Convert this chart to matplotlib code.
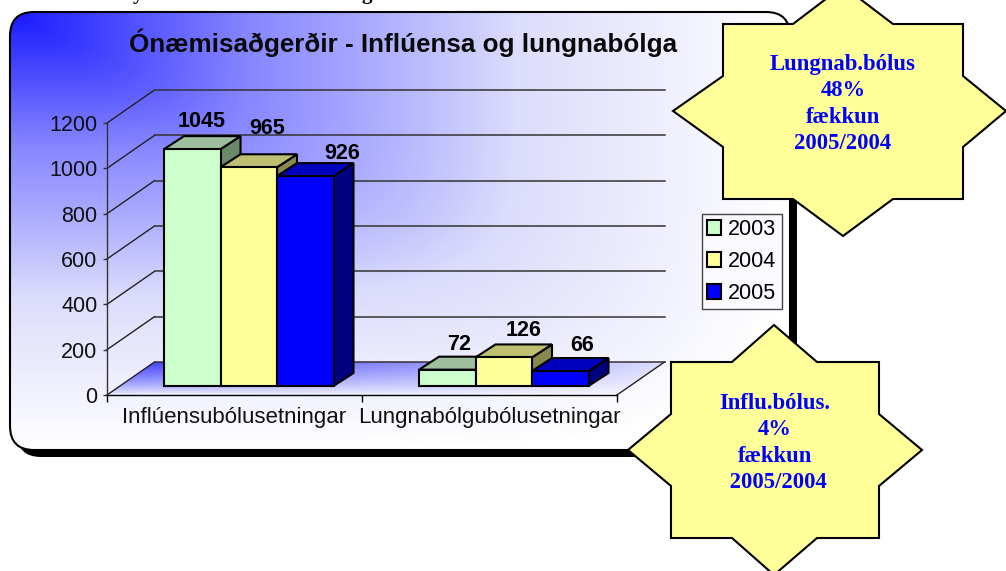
#!/usr/bin/env python3
# -*- coding: utf-8 -*-
import numpy as np
import matplotlib
matplotlib.use('Agg')
import matplotlib.pyplot as plt
from matplotlib.patches import Polygon, FancyBboxPatch
from matplotlib.colors import LinearSegmentedColormap

W, H = 1006, 571

categories = ['Inflúensubólusetningar', 'Lungnabólgubólusetningar']
years = ['2003', '2004', '2005']
values_2003 = [1045, 72]
values_2004 = [965, 126]
values_2005 = [926, 66]
y_ticks = [0, 200, 400, 600, 800, 1000, 1200]

title = 'Ónæmisaðgerðir - Inflúensa og lungnabólga'
note_lung = 'Lungnab.bólus\n48%\nfækkun\n2005/2004'
note_influ = 'Influ.bólus.\n4%\nfækkun\n 2005/2004'

front_cols = ['#CCFFCC', '#FFFF99', '#0000FF']
top_cols = ['#9DBF9D', '#BFBF73', '#0000BF']
side_cols = ['#6B886B', '#88884F', '#000080']

SANS = 'Liberation Sans'
SERIF = 'Liberation Serif'

fig = plt.figure(figsize=(W/100, H/100), dpi=100)
fig.patch.set_facecolor('white')

# page layer in pixel coordinates
pg = fig.add_axes([0, 0, 1, 1], zorder=0)
pg.set_xlim(0, W)
pg.set_ylim(H, 0)
pg.axis('off')

# cut off line of text above the panel
pg.text(138, -1, 'y', family=SERIF, weight='bold', fontsize=15, ha='center', va='baseline', color='black')
pg.text(367, -1, 'g', family=SERIF, weight='bold', fontsize=15, ha='center', va='baseline', color='black')

# panel with shadow
px0, py0, px1, py1 = 10, 12, 790, 450
shadow = FancyBboxPatch((px0+7, py0+7), px1-px0, py1-py0, boxstyle='round,pad=0,rounding_size=24',
                        fc='black', ec='black', lw=0, mutation_aspect=1)
pg.add_patch(shadow)
panel = FancyBboxPatch((px0, py0), px1-px0, py1-py0, boxstyle='round,pad=0,rounding_size=24',
                       fc='none', ec='black', lw=1.5)
xx, yy = np.meshgrid(np.arange(px0, px1), np.arange(py0, py1))
t = (((xx-px0)/(px1-px0))**6+((yy-py0)/(py1-py0))**6)**(1/6)
cmap = LinearSegmentedColormap.from_list('panel', [(0, '#1A1AFF'), (0.31, '#8888FF'), (0.45, '#A8A8FF'),
                                                   (0.65, '#DCDCFC'), (1, '#FFFFFF')])
im = pg.imshow(t, extent=(px0, px1, py1, py0), cmap=cmap, vmin=0, vmax=1, aspect='auto', zorder=1)
pg.add_patch(panel)
panel.set_zorder(2)
im.set_clip_path(panel)
pg.set_xlim(0, W)
pg.set_ylim(H, 0)

# chart layer, values go through this axes' scales
ax_l, ax_r, ax_b, ax_t = 107, 617, 395, 123
ax = fig.add_axes([ax_l/W, 1-ax_b/H, (ax_r-ax_l)/W, (ax_b-ax_t)/H], zorder=1)
ax.patch.set_alpha(0)
ax.set_xlim(0, 2)
ax.set_ylim(0, 1200)


def dx(px):
    return px*2/(ax_r-ax_l)


def dy(px):
    return px*1200/(ax_b-ax_t)


# floor
wall_x, wall_y = dx(47.5), dy(33)
fx, fy = np.meshgrid(np.linspace(0, 1, 300), np.linspace(0, 1, 60))
floor_rgba = np.zeros((60, 300, 4))
floor_rgba[..., 0] = 0.19
floor_rgba[..., 1] = 0.19
floor_rgba[..., 2] = 1.0
floor_rgba[..., 3] = (1-fy)**0.8*(1-0.85*fx)*0.95
floor_im = ax.imshow(floor_rgba, extent=(0, 2+wall_x, wall_y, 0), origin='lower', aspect='auto', zorder=1)
floor_poly = Polygon([(0, 0), (wall_x, wall_y), (2+wall_x, wall_y), (2, 0)], fc='none', ec='none',
                     transform=ax.transData)
ax.add_patch(floor_poly)
floor_im.set_clip_box(fig.bbox)
floor_im.set_clip_path(floor_poly)
ax.set_xlim(0, 2)
ax.set_ylim(0, 1200)

# walls
for v in y_ticks:
    ax.plot([0, wall_x], [v, v+wall_y], color='#222222', lw=1, clip_on=False, zorder=2)
    ax.plot([wall_x, 2+wall_x], [v+wall_y, v+wall_y], color='#333333', lw=1.1, clip_on=False, zorder=2)
ax.plot([2, 2+wall_x], [0, wall_y], color='#222222', lw=1, clip_on=False, zorder=2)

# bars
bar_w = dx(56.5)
bar_off = dx(57)
lift = dy(9)
depth_x, depth_y = dx(20), dy(13)
series = [values_2003, values_2004, values_2005]
handles = []
z = 3
for g in range(len(categories)):
    for i, vals in enumerate(series):
        x0 = g+bar_off+i*bar_w
        v = vals[g]
        b = ax.bar(x0, v, bar_w, bottom=lift, align='edge', color=front_cols[i], edgecolor='black', lw=1.5,
                   zorder=z+2, clip_on=False)
        top = lift+v
        ax.add_patch(Polygon([(x0, top), (x0+depth_x, top+depth_y), (x0+bar_w+depth_x, top+depth_y), (x0+bar_w, top)],
                             fc=top_cols[i], ec='black', lw=1.5, zorder=z+1, clip_on=False))
        ax.add_patch(Polygon([(x0+bar_w, lift), (x0+bar_w+depth_x, lift+depth_y), (x0+bar_w+depth_x, top+depth_y), (x0+bar_w, top)],
                             fc=side_cols[i], ec='black', lw=1.5, zorder=z, clip_on=False))
        z += 3
        if g == 0:
            handles.append(b)

# data labels, nudged by hand like in the original
label_dx = [[9, 18, 37], [12, 20, 22]]
label_dy = [[9, 20, 4], [7, 8, 7]]
for g in range(len(categories)):
    for i, vals in enumerate(series):
        xc = g+bar_off+(i+0.5)*bar_w+dx(label_dx[g][i])
        yb = lift+vals[g]+depth_y+dy(label_dy[g][i])
        ax.text(xc, yb, str(vals[g]), family=SANS, weight='bold', fontsize=15.5, ha='center', va='baseline',
                color='black', zorder=100, clip_on=False)

for s in ['top', 'right']:
    ax.spines[s].set_visible(False)
for s in ['left', 'bottom']:
    ax.spines[s].set_linewidth(1)
    ax.spines[s].set_zorder(2)
ax.spines['left'].set_color('#333333')
ax.spines['bottom'].set_color('black')
ax.set_yticks(y_ticks)
ax.set_yticklabels([str(v) for v in y_ticks], family=SANS, fontsize=15.5, color='#111111')
ax.tick_params(axis='y', length=3, width=1, pad=4, color='#333333')
ax.set_xticks([0, 1, 2])
ax.set_xticklabels([])
ax.set_xticks([0.5, 1.5], minor=True)
ax.set_xticklabels(categories, minor=True, family=SANS, fontsize=16, color='#111111')
ax.tick_params(axis='x', which='major', length=5, width=1)
ax.tick_params(axis='x', which='minor', length=0, pad=9)

pg.text(403.5, 43, title, family=SANS, weight='bold', fontsize=18.7, ha='center', va='center', color='#0a0a0a', zorder=5)

leg = ax.legend(handles, years, loc='upper left', bbox_to_anchor=(702/W, 1-214/H), bbox_transform=fig.transFigure,
                borderaxespad=0, frameon=True, fancybox=False, framealpha=1, facecolor='#FAFAFF', edgecolor='#444444',
                prop={'family': SANS, 'size': 15.5}, handlelength=0.62, handleheight=0.7, handletextpad=0.35,
                labelspacing=0.5, borderpad=0.25)
leg.set_zorder(200)

# notes on top
over = fig.add_axes([0, 0, 1, 1], zorder=2)
over.patch.set_alpha(0)
over.set_xlim(0, W)
over.set_ylim(H, 0)
over.axis('off')

star_lung = [(843, -14), (893, 24), (963, 24), (963, 76), (1006, 111), (963, 147), (963, 199), (893, 199),
             (843, 236), (793, 199), (723, 199), (723, 147), (673, 111), (723, 76), (723, 24), (793, 24)]
star_influ = [(774, 325), (817, 362), (879, 362), (879, 414), (922, 450), (879, 486), (879, 538), (817, 538),
              (774, 575), (732, 538), (671, 538), (671, 486), (628, 450), (671, 414), (671, 362), (732, 362)]
for star in [star_lung, star_influ]:
    over.add_patch(Polygon(star, closed=True, fc='#FFFF99', ec='black', lw=1.5, joinstyle='miter'))

over.text(843, 104, note_lung, family=SERIF, weight='bold', fontsize=16.3, color='#0000FF', ha='center', va='center',
          multialignment='center', linespacing=1.35)
over.text(775, 443, note_influ, family=SERIF, weight='bold', fontsize=16.3, color='#0000FF', ha='center', va='center',
          multialignment='center', linespacing=1.35)

fig.savefig('out.png', dpi=100)
